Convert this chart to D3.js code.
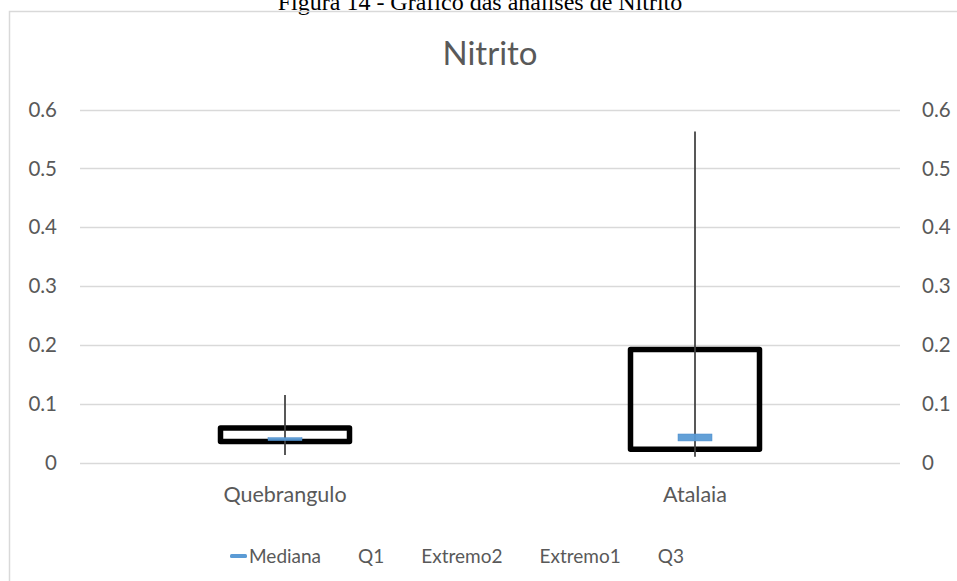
<!DOCTYPE html>
<html>
<head>
<meta charset="utf-8">
<script src="https://cdn.jsdelivr.net/npm/d3@7"></script>
<style>
  html, body { margin: 0; padding: 0; background: #fff; }
  svg { display: block; }
</style>
</head>
<body>
<svg id="chart" width="957" height="581"></svg>
<script>
// Nitrito box summary per site
const categories = ["Quebrangulo", "Atalaia"];
const extremo1 = [0.014, 0.011];   // lower extreme
const q1       = [0.037, 0.024];
const medianLo = [0.0384, 0.0379]; // median marker span
const medianHi = [0.0435, 0.0497];
const q3       = [0.060, 0.193];
const extremo2 = [0.116, 0.5625];  // upper extreme
const yTicks   = [0, 0.1, 0.2, 0.3, 0.4, 0.5, 0.6];
const legendItems = ["Mediana", "Q1", "Extremo2", "Extremo1", "Q3"];

const svg = d3.select("#chart");
const W = 957, H = 581;
const font = "Lato, 'Open Sans', sans-serif";
const textColor = "#595959";
const gridColor = "#d9d9d9";

// Figure caption (Times)
svg.append("text")
  .attr("x", 480).attr("y", 9.5)
  .attr("text-anchor", "middle")
  .attr("font-family", "'Liberation Serif', 'Times New Roman', serif")
  .attr("font-size", 24)
  .attr("fill", "#000")
  .text("Figura 14 - Gráfico das análises de Nitrito");

// Chart area frame
svg.append("path")
  .attr("d", `M9.5,${H + 2}V11.5H${W + 2}`)
  .attr("fill", "none")
  .attr("stroke", gridColor)
  .attr("stroke-width", 1.5);

// Title
svg.append("text")
  .attr("x", 490).attr("y", 65)
  .attr("text-anchor", "middle")
  .attr("font-family", font)
  .attr("font-size", 33)
  .attr("fill", textColor)
  .text("Nitrito");

const x = d3.scaleBand().domain(categories).range([80, 900]);
const y = d3.scaleLinear().domain([0, 0.6]).range([463.3, 109.5]);

// Gridlines
svg.append("g")
  .selectAll("line")
  .data(yTicks)
  .join("line")
  .attr("x1", 80).attr("x2", 900)
  .attr("y1", d => Math.round(y(d)) + 0.5)
  .attr("y2", d => Math.round(y(d)) + 0.5)
  .attr("stroke", gridColor)
  .attr("stroke-width", 1.5);

const fmt = d => d === 0 ? "0" : d3.format(".1f")(d);

// Left axis
const leftAxis = svg.append("g")
  .attr("transform", "translate(57,0)")
  .call(d3.axisLeft(y).tickValues(yTicks).tickFormat(fmt).tickSize(0).tickPadding(0));
// Right axis
const rightAxis = svg.append("g")
  .attr("transform", "translate(922,0)")
  .call(d3.axisRight(y).tickValues(yTicks).tickFormat(fmt).tickSize(0).tickPadding(0));
[leftAxis, rightAxis].forEach(g => {
  g.select(".domain").remove();
  g.selectAll("text")
    .attr("font-family", font)
    .attr("font-size", 20.5)
    .attr("fill", textColor);
});

// Category labels
const xAxis = svg.append("g")
  .attr("transform", "translate(0,502)")
  .call(d3.axisBottom(x).tickSize(0).tickPadding(0));
xAxis.select(".domain").remove();
xAxis.selectAll("text")
  .attr("font-family", font)
  .attr("font-size", 21.5)
  .attr("fill", textColor)
  .attr("y", 0)
  .attr("dy", 0);

const boxW = 129;
const idx = d3.range(categories.length);

// Boxes Q1..Q3
svg.append("g")
  .selectAll("rect")
  .data(idx)
  .join("rect")
  .attr("x", i => x(categories[i]) + x.bandwidth() / 2 - boxW / 2)
  .attr("width", boxW)
  .attr("y", i => y(q3[i]))
  .attr("height", i => y(q1[i]) - y(q3[i]))
  .attr("fill", "none")
  .attr("stroke", "#000")
  .attr("stroke-width", 5.5)
  .attr("stroke-linejoin", "round");

// Whiskers between extremes
svg.append("g")
  .selectAll("line")
  .data(idx)
  .join("line")
  .attr("x1", i => x(categories[i]) + x.bandwidth() / 2)
  .attr("x2", i => x(categories[i]) + x.bandwidth() / 2)
  .attr("y1", i => y(extremo2[i]))
  .attr("y2", i => y(extremo1[i]))
  .attr("stroke", "#404040")
  .attr("stroke-width", 1.75);

// Median markers
const medW = 34;
svg.append("g")
  .selectAll("rect")
  .data(idx)
  .join("rect")
  .attr("x", i => x(categories[i]) + x.bandwidth() / 2 - medW / 2)
  .attr("width", medW)
  .attr("y", i => y(medianHi[i]))
  .attr("height", i => y(medianLo[i]) - y(medianHi[i]))
  .attr("fill", "#5b9bd5")
  .attr("fill-opacity", 0.95)
  .attr("stroke", "#4a8ccc")
  .attr("stroke-width", 0.5);

// Legend
const legend = svg.append("g").attr("transform", "translate(0,563)");
let lx = 230;
legendItems.forEach((name, i) => {
  if (i === 0) {
    legend.append("rect")
      .attr("x", lx).attr("y", -9)
      .attr("width", 17).attr("height", 4)
      .attr("rx", 1.5)
      .attr("fill", "#5b9bd5");
    lx += 19;
  }
  const t = legend.append("text")
    .attr("x", lx).attr("y", 0)
    .attr("font-family", font)
    .attr("font-size", 19)
    .attr("fill", textColor)
    .text(name);
  lx += t.node().getComputedTextLength() + 37;
});
</script>
</body>
</html>
